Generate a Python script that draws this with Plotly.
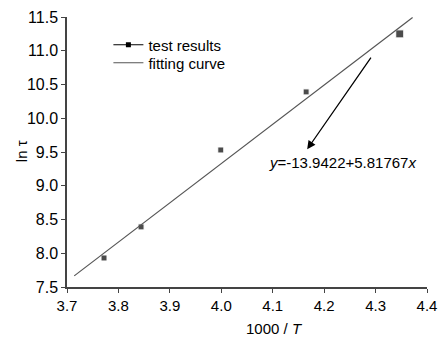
import plotly.graph_objects as go

# data
test_x = [3.772, 3.844, 3.999, 4.165, 4.347]
test_y = [7.93, 8.39, 9.53, 10.39, 11.25]
fit_x = [3.714, 4.372]
fit_y = [7.665, 11.493]
x_ticks = [3.7, 3.8, 3.9, 4.0, 4.1, 4.2, 4.3, 4.4]
x_tick_labels = ["3.7", "3.8", "3.9", "4.0", "4.1", "4.2", "4.3", "4.4"]
y_ticks = [7.5, 8.0, 8.5, 9.0, 9.5, 10.0, 10.5, 11.0, 11.5]
y_tick_labels = ["7.5", "8.0", "8.5", "9.0", "9.5", "10.0", "10.5", "11.0", "11.5"]
equation = "<i>y</i>=-13.9422+5.81767<i>x</i>"
arrow_tail = (4.293, 10.92)
arrow_head = (4.167, 9.54)
eq_pos = (4.235, 9.34)

FONT = "Liberation Sans, Arial, sans-serif"
AX = "#444444"
INK = "#000000"

fig = go.Figure()
fig.add_trace(go.Scatter(
    x=test_x, y=test_y, mode="markers", name="test results", showlegend=False,
    marker=dict(symbol="square", size=[6, 6, 6, 6, 8], color=INK),
))
fig.add_trace(go.Scatter(
    x=[None], y=[None], mode="lines+markers", name="test results",
    marker=dict(symbol="square", size=5, color=INK),
    line=dict(color=INK, width=1), legend="legend",
))
fig.add_trace(go.Scatter(
    x=fit_x, y=fit_y, mode="lines", name="fitting curve",
    line=dict(color="#555555", width=1.2), legend="legend2",
))

fig.add_annotation(
    x=arrow_head[0], y=arrow_head[1], ax=arrow_tail[0], ay=arrow_tail[1],
    xref="x", yref="y", axref="x", ayref="y", text="", showarrow=True,
    arrowhead=2, arrowsize=1.3, arrowwidth=1.3, arrowcolor=INK,
)
fig.add_annotation(
    x=eq_pos[0], y=eq_pos[1], xref="x", yref="y", text=equation,
    showarrow=False, xanchor="center", yanchor="middle",
    font=dict(family=FONT, size=15, color=INK),
)
fig.add_annotation(
    x=0.575, y=0, xref="paper", yref="paper", yshift=-41,
    text="1000 / <i>T</i>", showarrow=False, xanchor="center", yanchor="middle",
    font=dict(family=FONT, size=15, color=INK),
)
fig.add_annotation(
    x=0, y=0.503, xref="paper", yref="paper", xshift=-46,
    text="ln τ", showarrow=False, xanchor="center", yanchor="middle",
    textangle=-90, font=dict(family=FONT, size=15, color=INK),
)

leg_common = dict(xanchor="left", yanchor="middle", bgcolor="rgba(0,0,0,0)",
                  itemwidth=30, font=dict(family=FONT, size=15, color=INK))
fig.update_layout(
    width=439, height=338,
    margin=dict(l=67, r=12, t=17, b=51, autoexpand=False),
    paper_bgcolor="white", plot_bgcolor="white",
    font=dict(family=FONT, size=15, color=INK),
    showlegend=True,
    legend=dict(x=0.115, y=(287 - 45) / 270, **leg_common),
    legend2=dict(x=0.115, y=(287 - 63) / 270, **leg_common),
    xaxis=dict(range=[3.7, 4.4], tickvals=x_ticks, ticktext=x_tick_labels,
               showgrid=False, zeroline=False, showline=True, linecolor=AX,
               linewidth=1.5, ticks="outside", ticklen=4, tickcolor=AX,
               tickwidth=1.2, tickfont=dict(size=15), automargin=False),
    yaxis=dict(range=[7.5, 11.5], tickvals=y_ticks, ticktext=y_tick_labels,
               showgrid=False, zeroline=False, showline=True, linecolor=AX,
               linewidth=1.5, ticks="outside", ticklen=4, tickcolor=AX,
               tickwidth=1.2, tickfont=dict(size=16), automargin=False),
)
fig.write_html(
    "out.html",
    config={"displayModeBar": False},
    post_script="document.body.style.margin='0';document.body.style.overflow='hidden';",
)
